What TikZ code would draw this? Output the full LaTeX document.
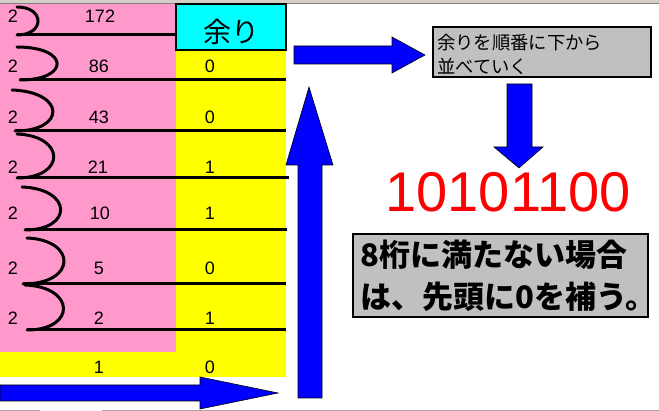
\documentclass[tikz,border=0pt]{standalone}
\usepackage{fontspec}
\setmainfont{Liberation Sans}
\newfontfamily\jp{Noto Sans CJK JP}
\definecolor{xpink}{HTML}{FF99CC}
\definecolor{xyellow}{HTML}{FFFF00}
\definecolor{xcyan}{HTML}{00FFFF}
\definecolor{xblue}{HTML}{0000FF}
\definecolor{xgray}{HTML}{C0C0C0}
\definecolor{xred}{HTML}{FF0000}
\definecolor{hdr}{HTML}{D4D0C8}
\tikzset{
  num/.style={font=\fontsize{18}{18}\selectfont, inner sep=0pt},
  divline/.style={line width=3pt},
  bracket/.style={line width=3pt, line cap=round},
  blockarrow/.style={fill=xblue, draw=black, line width=0.6pt, line join=miter},
  notebox/.style={fill=xgray, draw=black, line width=1.5pt}
}
\begin{document}
\begin{tikzpicture}[x=1pt,y=-1pt]
\useasboundingbox (0,0) rectangle (659,411);
\fill[white] (0,0) rectangle (659,411);
% spreadsheet remnants
\fill[hdr] (0,0) rectangle (659,3.5);
\draw[gray, line width=0.6pt] (0,3.3) -- (659,3.3);
\draw[gray!70, line width=1pt] (0,410.5) -- (40,410.5) (102,410.5) -- (659,410.5);
% backgrounds
\fill[xpink] (0,4) rectangle (176,352);
\fill[xyellow] (176,50) rectangle (286,377);
\fill[xyellow] (0,352) rectangle (176,377);
\node[draw=black, line width=1.5pt, fill=xcyan, minimum width=110pt, minimum height=46pt, inner sep=0pt] (amari) at (231,27) {};
\node[font=\jp\fontsize{28}{28}\selectfont, inner sep=0pt] (amaritext) at (231,32) {余り};
% brackets
\draw[bracket] (17,7) .. controls (45,7) and (45,35) .. (17,35);
\draw[bracket] (17,47) .. controls (70,47) and (70,80) .. (20,80);
\draw[bracket] (12,90) .. controls (66,92) and (66,131) .. (15,131);
\draw[bracket] (17,134) .. controls (66,136) and (66,178) .. (17,178);
\draw[bracket] (22,187) .. controls (73,189) and (73,230) .. (25,230);
\draw[bracket] (27,238) .. controls (77,240) and (77,284) .. (23,284);
\draw[bracket] (25,285) .. controls (76,287) and (76,330) .. (27,330);
% division lines
\draw[divline] (17,35) -- (176,35);
\draw[divline] (20,80) -- (286,80);
\draw[divline] (15,131) -- (286,131);
\draw[divline] (17,178) -- (289,178);
\draw[divline] (25,230) -- (287,230);
\draw[divline] (23,284) -- (286,284);
\draw[divline] (27,330) -- (286,330);
% divisors
\foreach \yy [count=\i] in {16,66,117,167,213,268,318}
  \node[num] (d\i) at (13,\yy) {2};
% quotients
\node[num] (q1) at (100,16) {172};
\node[num] (q2) at (99,66) {86};
\node[num] (q3) at (99,117) {43};
\node[num] (q4) at (98,167) {21};
\node[num] (q5) at (100,213) {10};
\node[num] (q6) at (99,268) {5};
\node[num] (q7) at (99,318) {2};
\node[num] (q8) at (99,367) {1};
% remainders
\node[num] (r1) at (210,66) {0};
\node[num] (r2) at (210,117) {0};
\node[num] (r3) at (210,167) {1};
\node[num] (r4) at (210,213) {1};
\node[num] (r5) at (210,268) {0};
\node[num] (r6) at (210,318) {1};
\node[num] (r7) at (210,367) {0};
% block arrows
\draw[blockarrow] (0,385) -- (200,385) -- (200,377) -- (278,393) -- (200,409) -- (200,401) -- (0,401) -- cycle;
\draw[blockarrow] (298,398) -- (298,165) -- (286,165) -- (309,87) -- (333,165) -- (322,165) -- (322,398) -- cycle;
\draw[blockarrow] (294,46) -- (392,46) -- (392,37) -- (425,55) -- (392,73) -- (392,64) -- (294,64) -- cycle;
\draw[blockarrow] (507,84) -- (532,84) -- (532,147) -- (543,147) -- (519,168) -- (494,147) -- (507,147) -- cycle;
% note boxes
\node[notebox, minimum width=218pt, minimum height=50pt, inner sep=0pt] (note1) at (542,52) {};
\node[font=\jp\fontsize{18.3}{18.3}\selectfont, anchor=west, inner sep=0pt] (n1a) at (437,43) {余りを順番に下から};
\node[font=\jp\fontsize{18.3}{18.3}\selectfont, anchor=west, inner sep=0pt] (n1b) at (437,66) {並べていく};
\node[font=\fontsize{56}{56}\selectfont, text=xred, inner sep=0pt] (result) at (508,192) {10101100};
\node[notebox, minimum width=295pt, minimum height=83pt, inner sep=0pt] (note2) at (500.5,275.5) {};
\node[font=\jp\bfseries\fontsize{31}{31}\selectfont, anchor=west, inner sep=0pt] (n2a) at (360,255) {8桁に満たない場合};
\node[font=\jp\bfseries\fontsize{31}{31}\selectfont, anchor=west, inner sep=0pt] (n2b) at (360,297) {は、先頭に0を補う。};
\end{tikzpicture}
\end{document}
